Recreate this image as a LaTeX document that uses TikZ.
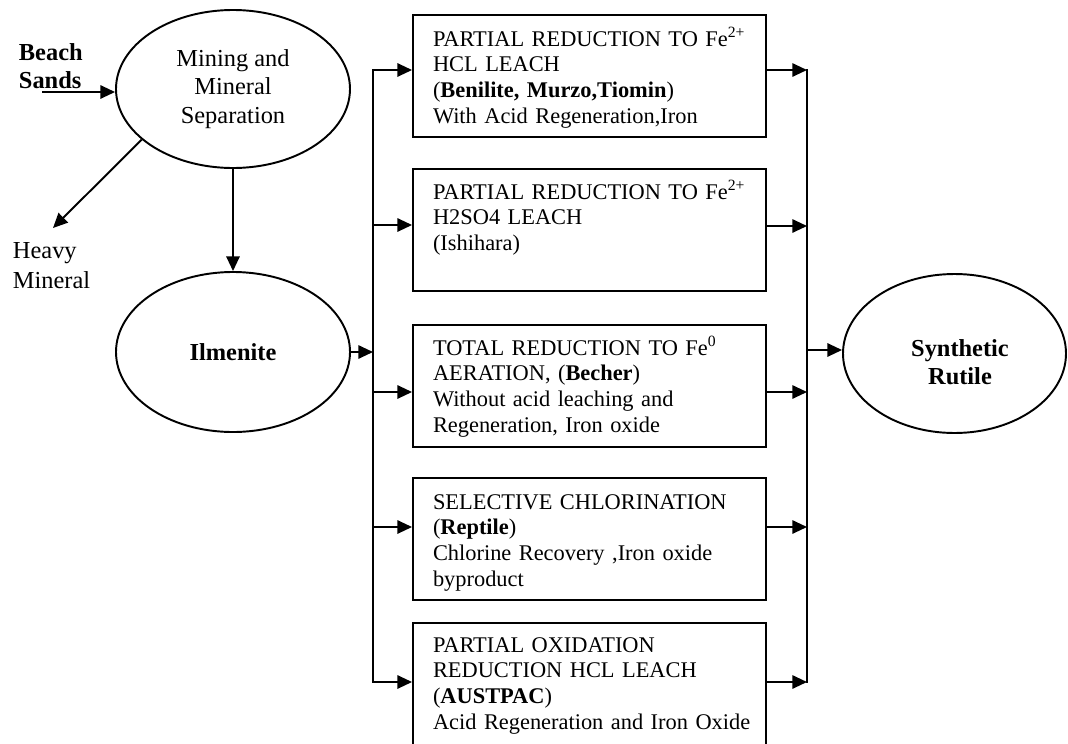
\documentclass[tikz,border=0pt]{standalone}
\usepackage{fontspec}
\setmainfont{Liberation Serif}
\usetikzlibrary{arrows.meta,calc,shapes.geometric}
\begin{document}
\begin{tikzpicture}[x=0.75pt,y=-0.75pt,line width=1.45pt,
  arr/.style={-{Triangle[length=11pt,width=10pt]}},
  oval/.style={draw,ellipse,inner sep=0pt,align=center,font=\fontsize{18.3}{21.4}\selectfont},
  ovaltext/.style={inner sep=0pt,align=center,font=\fontsize{18.3}{21}\selectfont\bfseries},
  procbox/.style={draw,rectangle,inner sep=0pt,minimum width=264.75pt,minimum height=91.5pt},
  proctext/.style={anchor=base west,inner sep=0pt,text width=248pt,align=left,font=\fontsize{16.8}{19.3}\selectfont},
  side/.style={anchor=base west,inner sep=0pt,align=left,text width=60pt}]
\useasboundingbox (0,0) rectangle (1068,743);
\clip (0,0) rectangle (1068,743);

% ellipses
\node[oval,minimum width=175.5pt,minimum height=118.5pt] (ms) at (233,89) {Mining and\\Mineral\\Separation};
\node[oval,minimum width=175.5pt,minimum height=120pt,font=\fontsize{18.3}{21.4}\selectfont\bfseries] (il) at (233,352) {Ilmenite};
\node[oval,minimum width=167.25pt,minimum height=119.25pt] (sr) at (954.5,353.5) {};
\node[ovaltext] (srt) at (960,362.5) {Synthetic\\Rutile};

% side labels
\node[side,font=\fontsize{18.3}{21}\selectfont\bfseries] (bs) at (18,60) {Beach\\Sands};
\node[side,font=\fontsize{18.3}{22.5}\selectfont] (hm) at (12,258) {Heavy\\Mineral};

% process boxes
\node[procbox] (b1) at (589.5,76) {};
\node[procbox] (b2) at (589.5,230) {};
\node[procbox] (b3) at (589.5,386) {};
\node[procbox] (b4) at (589.5,539) {};
\node[procbox] (b5) at (589.5,684) {};

\node[proctext] (t1) at ($(b1.north west)+(20,32)$) {PARTIAL REDUCTION TO Fe\textsuperscript{2+}\\HCL LEACH\\(\textbf{Benilite, Murzo,Tiomin})\\With Acid Regeneration,Iron};
\node[proctext] (t2) at ($(b2.north west)+(20,31)$) {PARTIAL REDUCTION TO Fe\textsuperscript{2+}\\H2SO4 LEACH\\(Ishihara)};
\node[proctext] (t3) at ($(b3.north west)+(20,31)$) {TOTAL REDUCTION TO Fe\textsuperscript{0}\\AERATION, (\textbf{Becher})\\Without acid leaching and\\Regeneration, Iron oxide};
\node[proctext] (t4) at ($(b4.north west)+(20,32)$) {SELECTIVE CHLORINATION\\(\textbf{Reptile})\\Chlorine Recovery ,Iron oxide\\byproduct};
\node[proctext] (t5) at ($(b5.north west)+(20,30)$) {PARTIAL OXIDATION\\REDUCTION HCL LEACH\\(\textbf{AUSTPAC})\\Acid Regeneration and Iron Oxide};

% connectors on the left
\coordinate (bs0) at (42,92);
\draw[arr] (bs0) -- (bs0 -| ms.west);
\coordinate (hm0) at (53,228);
\draw[arr] (ms.209) -- (hm0);
\draw[arr] (ms.south) -- (il.north);
\coordinate (LI) at (373,352);
\draw[arr] (il.east) -- (LI);

% left bus
\coordinate (L1) at (373,70);
\coordinate (L2) at (373,225);
\coordinate (L3) at (373,392);
\coordinate (L4) at (373,527);
\coordinate (L5) at (373,682);
\draw[arr] (L3) -- (L1) -- (L1 -| b1.west);
\draw[arr] (L3) -- (L5) -- (L5 -| b5.west);
\draw[arr] (L2) -- (L2 -| b2.west);
\draw[arr] (L3) -- (L3 -| b3.west);
\draw[arr] (L4) -- (L4 -| b4.west);

% right bus
\coordinate (R1) at (807,70);
\coordinate (R2) at (807,226);
\coordinate (R3) at (807,392);
\coordinate (R4) at (807,527);
\coordinate (R5) at (807,682);
\draw[line cap=rect] (R1) -- (R5);
\foreach \i in {1,...,5} {
  \draw[arr] (R\i -| b\i.east) -- (R\i);
}
\coordinate (RS) at (807,350);
\draw[arr] (RS) -- (RS -| sr.west);
\end{tikzpicture}
\end{document}
